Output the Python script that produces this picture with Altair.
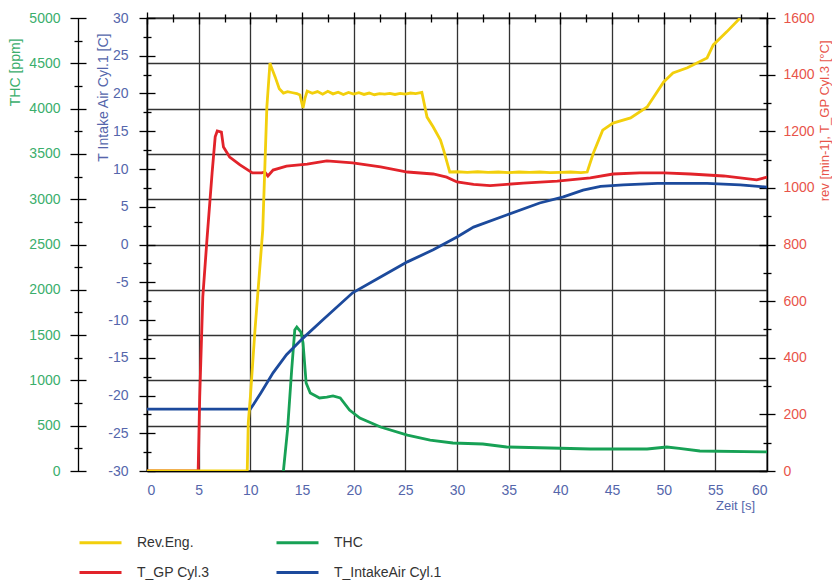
import altair as alt
import pandas as pd

# ---------------- data ----------------
rev_t = [0, 9.7, 9.8, 10.0, 10.45, 11.2, 11.6, 11.9, 12.0, 12.4, 12.8, 13.2, 13.6, 14.1, 14.5, 14.8,
         15.1, 15.3, 15.5, 16.0, 16.5, 17.0, 17.5, 18.0, 18.5, 19.0, 19.5, 20.0, 20.5, 21.0, 21.5,
         22.0, 22.5, 23.0, 23.5, 24.0, 24.5, 25.0, 25.5, 26.0, 26.6, 27.1, 27.7, 28.4, 28.7, 29.3,
         30, 31, 32, 33, 34, 35, 36, 37, 38, 39, 40, 41, 42, 42.6, 43.2, 44.1, 45.1, 46.8, 48.4,
         50.0, 50.9, 52.3, 54.2, 54.8, 56.1, 57.4]
rev_v = [0, 0, 170, 260, 498, 851, 1286, 1441, 1430, 1392, 1350, 1335, 1340, 1336, 1333, 1328,
         1282, 1318, 1342, 1334, 1340, 1331, 1341, 1332, 1338, 1330, 1337, 1331, 1336, 1330, 1335,
         1329, 1333, 1331, 1334, 1330, 1334, 1331, 1335, 1333, 1337, 1250, 1215, 1169, 1134, 1056,
         1057, 1055, 1057, 1055, 1056, 1054, 1056, 1055, 1056, 1054, 1055, 1056, 1054, 1056, 1123,
         1204, 1229, 1247, 1286, 1374, 1406, 1424, 1459, 1505, 1551, 1600]

tgp_t = [0, 4.95, 5.1, 5.4, 5.8, 6.3, 6.6, 6.8, 7.2, 7.4, 8.0, 9.0, 10.2, 11.1, 11.4, 11.7, 12.2,
         13.5, 15.5, 17.4, 19.9, 22.6, 25.2, 27.7, 29.0, 30.0, 31.6, 33.2, 36.4, 39.7, 42.9, 45.1,
         47.7, 50.0, 52.6, 55.8, 59.0, 60.0]
tgp_v = [0, 0, 261, 615, 816, 1053, 1180, 1201, 1197, 1144, 1109, 1081, 1053, 1053, 1056, 1042,
         1063, 1077, 1084, 1095, 1088, 1074, 1056, 1049, 1038, 1021, 1012, 1008, 1017, 1024, 1035,
         1049, 1053, 1053, 1049, 1042, 1028, 1038]

thc_t = [13.2, 13.6, 14.0, 14.3, 14.5, 14.9, 15.1, 15.4, 15.8, 16.7, 17.4, 18.0, 18.7, 19.6, 20.6,
         22.6, 25.2, 27.4, 29.6, 32.5, 34.8, 39.0, 42.9, 48.4, 50.3, 51.5, 53.5, 60.0]
thc_v = [0, 453, 1115, 1556, 1589, 1534, 1413, 971, 861, 806, 815, 828, 806, 673, 585,
         486, 397, 342, 309, 298, 265, 254, 243, 243, 265, 250, 221, 210]

tia_t = [0, 10.0, 10.3, 11.0, 12.2, 13.5, 15.1, 17.0, 19.9, 22.6, 25.2, 27.7, 30.0, 31.6, 34.8,
         38.0, 40.3, 42.2, 43.9, 46.1, 49.4, 54.2, 57.4, 60.0]
tia_v = [-21.8, -21.8, -21.2, -19.7, -17.0, -14.6, -12.4, -10.0, -6.4, -4.3, -2.3, -0.7, 1.0, 2.3,
         3.9, 5.5, 6.3, 7.2, 7.7, 7.9, 8.1, 8.1, 7.9, 7.6]

series_names = ["Rev.Eng.", "T_GP Cyl.3", "THC", "T_IntakeAir Cyl.1"]
series_colors = ["#f2cf0c", "#e2232a", "#17a155", "#1c4a9c"]

x_ticks = list(range(0, 61, 5))
x_minor = [2.5 + 5 * i for i in range(12)]
thc_ticks = list(range(0, 5001, 500))
thc_minor = [250 + 500 * i for i in range(10)]
tia_ticks = list(range(-30, 31, 5))
tia_minor = [-27.5 + 5 * i for i in range(12)]
rpm_ticks = list(range(0, 1601, 200))
rpm_minor = [100 + 200 * i for i in range(8)]

# ---------------- tables ----------------
thc_df = pd.DataFrame({"t": thc_t, "v": thc_v, "series": "THC"})
tia_df = pd.DataFrame({"t": tia_t, "v": tia_v, "series": "T_IntakeAir Cyl.1"})
right_df = pd.concat([
    pd.DataFrame({"t": tgp_t, "v": tgp_v, "series": "T_GP Cyl.3", "ord": 0}),
    pd.DataFrame({"t": rev_t, "v": rev_v, "series": "Rev.Eng.", "ord": 1}),
])

FONT = "Liberation Sans"
GREEN_L = "#3aae6c"
BLUE_L = "#5566ab"
RED_L = "#e8544a"
GRID = "#333333"
LW = 2.8

xscale = alt.Scale(domain=[0, 60], nice=False, zero=False)
thc_scale = alt.Scale(domain=[0, 5000], nice=False, zero=False)
tia_scale = alt.Scale(domain=[-30, 30], nice=False, zero=False)
rpm_scale = alt.Scale(domain=[0, 1600], nice=False, zero=False)

color = alt.Color(
    "series:N",
    scale=alt.Scale(domain=series_names, range=series_colors),
    legend=alt.Legend(
        title=None, orient="none", legendX=-69, legendY=502, columns=2,
        symbolType="stroke", symbolSize=1764, symbolStrokeWidth=2.8,
        labelFont=FONT, labelFontSize=14, labelColor="#333333",
        columnPadding=60, rowPadding=-10, labelOffset=14, padding=0,
    ),
)

LBL = "'' + datum.value"

x_main = alt.X("t:Q", scale=xscale, axis=alt.Axis(
    values=x_ticks, ticks=False, grid=True, gridColor=GRID, gridWidth=1.3,
    domainColor="black", domainWidth=1.3, labelColor=BLUE_L, labelFont=FONT,
    labelFontSize=14, labelPadding=12, title="Zeit [s]", titleFont=FONT,
    titleFontSize=13, titleFontWeight="normal", titleColor=BLUE_L,
    titleX=588, titleY=34, titleAlign="center", titleBaseline="middle", labelExpr=LBL))
x_major = alt.X("t:Q", scale=xscale, axis=alt.Axis(
    values=x_ticks, offset=-6, tickSize=12, tickColor="black", tickWidth=1.3,
    labels=False, domain=False, grid=False, title=""))
x_minor_ax = alt.X("t:Q", scale=xscale, axis=alt.Axis(
    values=x_minor, offset=-4, tickSize=8, tickColor="black", tickWidth=1.3,
    labels=False, domain=False, grid=False, title=""))
x_none = alt.X("t:Q", scale=xscale, axis=None)


def tick_layer(df, scale, orient, offset, vals, size, xenc):
    return alt.Chart(df).mark_line(opacity=0).encode(
        x=xenc,
        y=alt.Y("v:Q", scale=scale, axis=alt.Axis(
            orient=orient, offset=offset, values=vals, tickSize=size, tickColor="black",
            tickWidth=1.3, labels=False, domain=False, grid=False, title="")),
    )


thc_line = alt.Chart(thc_df).mark_line(strokeWidth=LW, clip=True).encode(
    x=x_main,
    y=alt.Y("v:Q", scale=thc_scale, axis=alt.Axis(
        orient="left", offset=69, values=thc_ticks, ticks=False, grid=True,
        gridColor=GRID, gridWidth=1.3, domainColor="black", domainWidth=1.3,
        labelColor=GREEN_L, labelFont=FONT, labelFontSize=14, labelPadding=18,
        title="THC [ppm]", titleFont=FONT, titleFontSize=14, titleFontWeight="normal",
        titleColor=GREEN_L, titleAngle=270, titleAlign="right", titleBaseline="middle",
        titleX=-63, titleY=20, labelExpr=LBL)),
    color=color,
)
thc_major = tick_layer(thc_df, thc_scale, "left", 61, thc_ticks, 16, x_major)
thc_minor_l = tick_layer(thc_df, thc_scale, "left", 65, thc_minor, 8, x_minor_ax)

tia_line = alt.Chart(tia_df).mark_line(strokeWidth=LW, clip=True).encode(
    x=x_none,
    y=alt.Y("v:Q", scale=tia_scale, axis=alt.Axis(
        orient="left", values=tia_ticks, ticks=False, grid=False,
        domainColor="black", domainWidth=1.3,
        labelColor=BLUE_L, labelFont=FONT, labelFontSize=14, labelPadding=19,
        title="T Intake Air Cyl.1 [C]", titleFont=FONT, titleFontSize=14,
        titleFontWeight="normal", titleColor=BLUE_L, titleAngle=270, titleAlign="right",
        titleBaseline="middle", titleX=-44, titleY=15, labelExpr=LBL)),
    color=color,
)
tia_major = tick_layer(tia_df, tia_scale, "left", -8, tia_ticks, 16, x_none)
tia_minor_l = tick_layer(tia_df, tia_scale, "left", -4, tia_minor, 8, x_none)

right_line = alt.Chart(right_df).mark_line(strokeWidth=LW, clip=True).encode(
    x=x_none,
    y=alt.Y("v:Q", scale=rpm_scale, axis=alt.Axis(
        orient="right", values=rpm_ticks, ticks=False, grid=False,
        domainColor="black", domainWidth=1.3,
        labelColor=RED_L, labelFont=FONT, labelFontSize=14, labelPadding=16,
        title="rev [min-1], T_GP Cyl.3 [°C]", titleFont=FONT, titleFontSize=13,
        titleFontWeight="normal", titleColor=RED_L, titleAngle=270, titleAlign="right",
        titleBaseline="middle", titleX=57, titleY=22, labelExpr=LBL)),
    color=color,
    order=alt.Order("ord:Q"),
    detail="series:N",
)
rpm_major = tick_layer(right_df, rpm_scale, "right", -8, rpm_ticks, 16, x_none)
rpm_minor_l = tick_layer(right_df, rpm_scale, "right", -4, rpm_minor, 8, x_none)

chart = alt.layer(
    thc_line, thc_major, thc_minor_l,
    tia_line, tia_major, tia_minor_l,
    right_line, rpm_major, rpm_minor_l,
).resolve_scale(y="independent").resolve_axis(x="independent", y="independent").properties(
    width=620, height=453,
    autosize=alt.AutoSizeParams(type="none"),
    padding={"left": 147, "top": 18, "right": 65, "bottom": 113},
    background="white",
).configure_view(stroke="black", strokeWidth=1.3)

chart.save("out.html", embed_options={"renderer": "svg", "actions": False})
